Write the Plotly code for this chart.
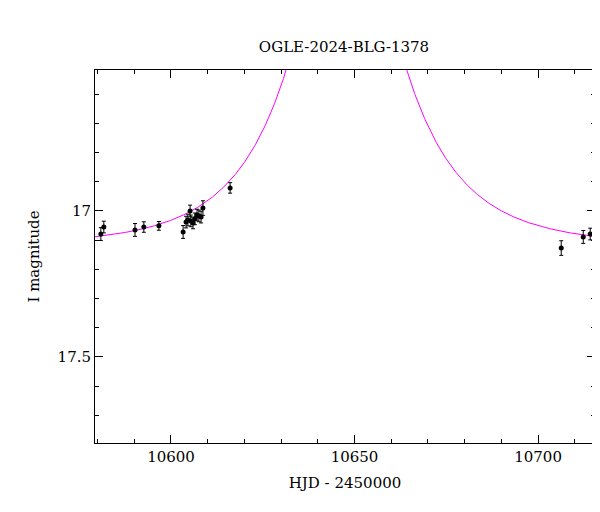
import numpy as np
import plotly.graph_objects as go

hjd = [10580.9,10581.7,10590.2,10592.6,10596.7,10603.3,10604.1,10604.6,10605.2,10605.4,
       10606.0,10606.5,10607.1,10607.6,10608.2,10608.7,10616.1,10706.3,10712.3,10714.2]
mag = [17.079,17.055,17.065,17.055,17.051,17.072,17.038,17.031,17.000,17.034,
       17.041,17.027,17.014,17.017,17.021,16.990,16.921,17.127,17.089,17.079]
err = [0.022,0.02,0.022,0.018,0.015,0.022,0.02,0.02,0.02,0.02,
       0.02,0.02,0.02,0.02,0.02,0.025,0.018,0.025,0.022,0.02]
xticks = [10600, 10650, 10700]
xticklabels = ["10600", "10650", "10700"]
yticks = [17.0, 17.5]
yticklabels = ["17", "17.5"]

# PSPL model parameters
t0, tE, u0, Ibase = 10647.8, 27.2, 0.28, 17.12
t = np.linspace(10579.3, 10715.5, 2000)
u = np.sqrt(u0**2 + ((t - t0) / tE)**2)
A = (u**2 + 2) / (u * np.sqrt(u**2 + 4))
model = Ibase - 2.5 * np.log10(A)

fig = go.Figure()
fig.add_trace(go.Scatter(x=t, y=model, mode="lines", line=dict(color="#ff00ff", width=1), hoverinfo="skip"))
fig.add_trace(go.Scatter(x=hjd, y=mag, mode="markers",
                         marker=dict(color="black", size=5),
                         error_y=dict(type="data", array=err, color="black", thickness=1, width=2)))
font = dict(family="DejaVu Serif", size=15, color="black")
axis = dict(showgrid=False, zeroline=False, showline=True, linecolor="black", linewidth=1,
            mirror="allticks", ticks="inside", ticklen=8, tickcolor="black", automargin=False,
            minor=dict(ticks="inside", ticklen=4, tickcolor="black"))
fig.update_layout(
    width=600, height=512, showlegend=False, plot_bgcolor="white", paper_bgcolor="white",
    font=font,
    title=dict(text="OGLE-2024-BLG-1378", x=0.56, y=0.935, xanchor="center", font=font, automargin=False),
    margin=dict(l=87, r=13, t=62, b=77),
    xaxis=dict(axis, range=[10579.3, 10715.5], tickmode="array", tickvals=xticks, ticktext=xticklabels,
               minor_dtick=10, minor_tick0=10600,
               title=dict(text="HJD - 2450000", font=font, standoff=12)),
    yaxis=dict(axis, range=[17.795, 16.517], tickmode="array", tickvals=yticks, ticktext=yticklabels,
               minor_dtick=0.1, minor_tick0=17,
               title=dict(text="I magnitude", font=font, standoff=14)),
)
fig.write_html("out.html")
